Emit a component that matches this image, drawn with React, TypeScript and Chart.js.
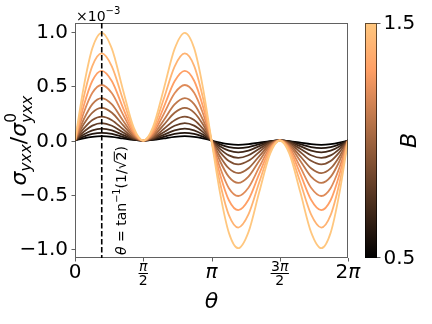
import React, { useEffect, useRef } from "react";
import { Chart, registerables } from "chart.js";

Chart.register(...registerables);

// θ sample positions (rad)
const THETA = [
  0, 0.2, 0.4, 0.615, 0.85, 1.1, 1.35, 1.571, 1.792, 2.042, 2.292, 2.527, 2.742, 2.942, 3.142,
  3.342, 3.542, 3.757, 3.992, 4.242, 4.492, 4.712, 4.933, 5.183, 5.433, 5.668, 5.883, 6.083, 6.283,
];

// B values of the curves (colour bar 0.5 .. 1.5)
const B_VALUES = [0.5, 0.6, 0.7, 0.8, 0.9, 1.0, 1.1, 1.2, 1.3, 1.4, 1.5];

// σ_yxx / σ^0_yxx (in units of 1e-3)
const SIG_B05 = [0, 0.02, 0.034, 0.04, 0.034, 0.019, 0.005, 0, 0.005, 0.019, 0.034, 0.04, 0.034, 0.02, 0, -0.02, -0.034, -0.04, -0.034, -0.019, -0.005, 0, -0.005, -0.019, -0.034, -0.04, -0.034, -0.02, 0];
const SIG_B06 = [0, 0.035, 0.06, 0.07, 0.06, 0.033, 0.009, 0, 0.009, 0.033, 0.06, 0.07, 0.06, 0.035, 0, -0.035, -0.06, -0.07, -0.06, -0.033, -0.009, 0, -0.009, -0.033, -0.06, -0.07, -0.06, -0.035, 0];
const SIG_B07 = [0, 0.055, 0.094, 0.11, 0.094, 0.052, 0.013, 0, 0.013, 0.052, 0.094, 0.11, 0.094, 0.055, 0, -0.055, -0.094, -0.11, -0.094, -0.052, -0.013, 0, -0.013, -0.052, -0.094, -0.11, -0.094, -0.055, 0];
const SIG_B08 = [0, 0.079, 0.137, 0.16, 0.136, 0.076, 0.02, 0, 0.02, 0.076, 0.136, 0.16, 0.137, 0.079, 0, -0.079, -0.137, -0.16, -0.136, -0.076, -0.02, 0, -0.02, -0.076, -0.136, -0.16, -0.137, -0.079, 0];
const SIG_B09 = [0, 0.109, 0.189, 0.22, 0.187, 0.105, 0.027, 0, 0.027, 0.105, 0.187, 0.22, 0.189, 0.109, 0, -0.109, -0.189, -0.22, -0.187, -0.105, -0.027, 0, -0.027, -0.105, -0.187, -0.22, -0.189, -0.109, 0];
const SIG_B10 = [0, 0.149, 0.257, 0.3, 0.255, 0.143, 0.037, 0, 0.037, 0.143, 0.255, 0.3, 0.257, 0.149, 0, -0.149, -0.257, -0.3, -0.255, -0.143, -0.037, 0, -0.037, -0.143, -0.255, -0.3, -0.257, -0.149, 0];
const SIG_B11 = [0, 0.193, 0.335, 0.39, 0.332, 0.186, 0.048, 0, 0.048, 0.186, 0.332, 0.39, 0.335, 0.193, 0, -0.193, -0.335, -0.39, -0.332, -0.186, -0.048, 0, -0.048, -0.186, -0.332, -0.39, -0.335, -0.193, 0];
const SIG_B12 = [0, 0.253, 0.438, 0.51, 0.434, 0.243, 0.062, 0, 0.062, 0.243, 0.434, 0.51, 0.438, 0.253, 0, -0.253, -0.438, -0.51, -0.434, -0.243, -0.062, 0, -0.062, -0.243, -0.434, -0.51, -0.438, -0.253, 0];
const SIG_B13 = [0, 0.317, 0.549, 0.64, 0.544, 0.305, 0.078, 0, 0.078, 0.305, 0.544, 0.64, 0.549, 0.317, 0, -0.317, -0.549, -0.64, -0.544, -0.305, -0.078, 0, -0.078, -0.305, -0.544, -0.64, -0.549, -0.317, 0];
const SIG_B14 = [0, 0.397, 0.686, 0.8, 0.68, 0.382, 0.098, 0, 0.098, 0.382, 0.68, 0.8, 0.686, 0.397, 0, -0.397, -0.686, -0.8, -0.68, -0.382, -0.098, 0, -0.098, -0.382, -0.68, -0.8, -0.686, -0.397, 0];
const SIG_B15 = [0, 0.491, 0.849, 0.99, 0.842, 0.472, 0.121, 0, 0.121, 0.472, 0.842, 0.99, 0.849, 0.491, 0, -0.491, -0.849, -0.99, -0.842, -0.472, -0.121, 0, -0.121, -0.472, -0.842, -0.99, -0.849, -0.491, 0];

const SERIES = [SIG_B05, SIG_B06, SIG_B07, SIG_B08, SIG_B09, SIG_B10, SIG_B11, SIG_B12, SIG_B13, SIG_B14, SIG_B15];

const Y_TICKS = [1.0, 0.5, 0.0, -0.5, -1.0];
const Y_TICK_LABELS = ["1.0", "0.5", "0.0", "\u22120.5", "\u22121.0"];
const X_TICKS = [0, Math.PI / 2, Math.PI, (3 * Math.PI) / 2, 2 * Math.PI];
const X_TICK_COEF = ["0", "", "", "3", "2"];
const X_TICK_PI = [false, true, true, true, true];
const X_TICK_DEN = ["", "2", "", "2", ""];
const THETA_MARK = Math.atan(1 / Math.SQRT2);
const CBAR_TICKS = [0.5, 1.5];
const CBAR_TICK_LABELS = ["0.5", "1.5"];

const FONT = '"DejaVu Sans", sans-serif';
const AXIS_COLOR = "rgba(0,0,0,0.62)";

function copper(t: number): string {
  const r = Math.min(1, 1.25 * t);
  const g = 0.7812 * t;
  const b = 0.4975 * t;
  return `rgb(${Math.round(r * 255)},${Math.round(g * 255)},${Math.round(b * 255)})`;
}

type Run = { text: string; size: number; italic?: boolean; dy?: number; stack?: Run[] };

function runWidth(ctx: CanvasRenderingContext2D, r: Run): number {
  if (r.stack) return Math.max(...r.stack.map((s) => runWidth(ctx, s)));
  ctx.font = `${r.italic ? "italic " : ""}${r.size}px ${FONT}`;
  return ctx.measureText(r.text).width;
}

function totalWidth(ctx: CanvasRenderingContext2D, runs: Run[]) {
  return runs.reduce((a, r) => a + runWidth(ctx, r), 0);
}

function drawRuns(ctx: CanvasRenderingContext2D, runs: Run[], x0: number, y0: number) {
  let x = x0;
  for (const r of runs) {
    if (r.stack) {
      for (const s of r.stack) {
        ctx.font = `${s.italic ? "italic " : ""}${s.size}px ${FONT}`;
        ctx.fillText(s.text, x, y0 + (s.dy || 0));
      }
    } else {
      ctx.font = `${r.italic ? "italic " : ""}${r.size}px ${FONT}`;
      ctx.fillText(r.text, x, y0 + (r.dy || 0));
    }
    x += runWidth(ctx, r);
  }
  return x;
}

function drawCentered(ctx: CanvasRenderingContext2D, runs: Run[], cx: number, y: number) {
  const w = totalWidth(ctx, runs);
  drawRuns(ctx, runs, cx - w / 2, y);
  return w;
}

const decorPlugin = {
  id: "decor",
  afterDatasetsDraw(chart: any) {
    const ctx: CanvasRenderingContext2D = chart.ctx;
    const xs = chart.scales.x;
    const ca = chart.chartArea;
    const px = xs.getPixelForValue(THETA_MARK);
    ctx.save();
    ctx.strokeStyle = "#000";
    ctx.lineWidth = 1.6;
    ctx.setLineDash([5.5, 2.5]);
    ctx.beginPath();
    ctx.moveTo(px, ca.top);
    ctx.lineTo(px, ca.bottom);
    ctx.stroke();
    ctx.restore();
  },
  afterDraw(chart: any) {
    const ctx: CanvasRenderingContext2D = chart.ctx;
    const xs = chart.scales.x;
    const ys = chart.scales.y;
    const ca = chart.chartArea;
    ctx.save();
    ctx.fillStyle = "#000";
    ctx.textBaseline = "alphabetic";

    // frame
    ctx.strokeStyle = AXIS_COLOR;
    ctx.lineWidth = 1;
    ctx.strokeRect(ca.left + 0.5, ca.top + 0.5, ca.right - ca.left - 1, ca.bottom - ca.top - 1);

    // tick marks
    ctx.beginPath();
    Y_TICKS.forEach((v) => {
      const y = Math.round(ys.getPixelForValue(v)) + 0.5;
      ctx.moveTo(ca.left - 3.5, y);
      ctx.lineTo(ca.left, y);
    });
    X_TICKS.forEach((v) => {
      const x = Math.round(xs.getPixelForValue(v)) + 0.5;
      ctx.moveTo(x, ca.bottom);
      ctx.lineTo(x, ca.bottom + 3.5);
    });
    ctx.stroke();

    // y tick labels
    ctx.font = `20px ${FONT}`;
    ctx.textAlign = "right";
    ctx.textBaseline = "middle";
    Y_TICKS.forEach((v, i) => {
      ctx.fillText(Y_TICK_LABELS[i], ca.left - 7, ys.getPixelForValue(v) + 1);
    });

    // x tick labels
    ctx.textAlign = "left";
    ctx.textBaseline = "alphabetic";
    X_TICKS.forEach((v, i) => {
      const x = xs.getPixelForValue(v);
      if (X_TICK_DEN[i]) {
        const num: Run[] = [];
        if (X_TICK_COEF[i]) num.push({ text: X_TICK_COEF[i], size: 14 });
        if (X_TICK_PI[i]) num.push({ text: "\u03c0", size: 14, italic: true });
        const w = Math.max(drawCentered(ctx, num, x, ca.bottom + 13), 8) + 1;
        ctx.fillRect(x - w / 2, ca.bottom + 15, w, 1);
        drawCentered(ctx, [{ text: X_TICK_DEN[i], size: 14 }], x, ca.bottom + 27);
      } else {
        const runs: Run[] = [];
        if (X_TICK_COEF[i]) runs.push({ text: X_TICK_COEF[i], size: 20 });
        if (X_TICK_PI[i]) runs.push({ text: "\u03c0", size: 20, italic: true });
        drawCentered(ctx, runs, x, ca.bottom + 19.5);
      }
    });

    // x label
    drawCentered(ctx, [{ text: "\u03b8", size: 22, italic: true }], (ca.left + ca.right) / 2, 308);

    // offset text ×10^-3
    drawRuns(
      ctx,
      [
        { text: "\u00d710", size: 14 },
        { text: "\u22123", size: 10, dy: -7 },
      ],
      ca.left + 1,
      21
    );

    // y label (rotated)
    ctx.save();
    ctx.translate(26, (ca.top + ca.bottom) / 2);
    ctx.rotate(-Math.PI / 2);
    const yl: Run[] = [
      { text: "\u03c3", size: 22, italic: true },
      { text: "yxx", size: 15.4, italic: true, dy: 5 },
      { text: "/", size: 22 },
      { text: "\u03c3", size: 22, italic: true },
      {
        text: "",
        size: 15.4,
        stack: [
          { text: "0", size: 15.4, dy: -10 },
          { text: "yxx", size: 15.4, italic: true, dy: 6 },
        ],
      },
    ];
    drawCentered(ctx, yl, 0, 0);
    ctx.restore();

    // annotation θ = tan^-1(1/√2)
    ctx.save();
    ctx.translate(126, 255);
    ctx.rotate(-Math.PI / 2);
    let x = drawRuns(
      ctx,
      [
        { text: "\u03b8", size: 14, italic: true },
        { text: " = tan", size: 14 },
        { text: "\u22121", size: 9.8, dy: -6 },
        { text: "(1/\u221a", size: 14 },
      ],
      0,
      0
    );
    ctx.font = `14px ${FONT}`;
    const w2 = ctx.measureText("2").width;
    ctx.fillText("2", x, 0);
    ctx.fillRect(x - 0.5, -12.2, w2 + 0.5, 1);
    x += w2;
    ctx.fillText(")", x, 0);
    ctx.restore();

    // colour bar
    const cbL = 365,
      cbR = 377,
      cbT = ca.top,
      cbB = ca.bottom;
    const grad = ctx.createLinearGradient(0, cbB, 0, cbT);
    for (let k = 0; k <= 10; k++) grad.addColorStop(k / 10, copper(k / 10));
    ctx.fillStyle = grad;
    ctx.fillRect(cbL, cbT, cbR - cbL, cbB - cbT);
    ctx.strokeStyle = AXIS_COLOR;
    ctx.strokeRect(cbL + 0.5, cbT + 0.5, cbR - cbL - 1, cbB - cbT - 1);
    ctx.fillStyle = "#000";
    ctx.font = `20px ${FONT}`;
    ctx.textAlign = "left";
    ctx.textBaseline = "middle";
    ctx.beginPath();
    CBAR_TICKS.forEach((v, i) => {
      const t = (v - B_VALUES[0]) / (B_VALUES[B_VALUES.length - 1] - B_VALUES[0]);
      const y = cbB - t * (cbB - cbT);
      const yy = Math.min(Math.max(Math.round(y) + 0.5, cbT + 0.5), cbB - 0.5);
      ctx.moveTo(cbR, yy);
      ctx.lineTo(cbR + 3.5, yy);
      ctx.fillText(CBAR_TICK_LABELS[i], cbR + 6.5, y + 1);
    });
    ctx.stroke();

    // colour bar label
    ctx.save();
    ctx.translate(416, (ca.top + ca.bottom) / 2);
    ctx.rotate(-Math.PI / 2);
    ctx.textAlign = "center";
    ctx.textBaseline = "alphabetic";
    ctx.font = `italic 22px ${FONT}`;
    ctx.fillText("B", 0, 0);
    ctx.restore();

    ctx.restore();
  },
};

export default function App() {
  const ref = useRef<HTMLCanvasElement | null>(null);
  useEffect(() => {
    if (!ref.current) return;
    const bMin = B_VALUES[0];
    const bMax = B_VALUES[B_VALUES.length - 1];
    const datasets = SERIES.map((vals, i) => ({
      label: `B=${B_VALUES[i]}`,
      data: THETA.map((t, j) => ({ x: t, y: vals[j] })),
      borderColor: copper((B_VALUES[i] - bMin) / (bMax - bMin)),
      borderWidth: 1.8,
      pointRadius: 0,
      fill: false,
      cubicInterpolationMode: "monotone" as const,
    })).reverse();
    const chart = new Chart(ref.current, {
      type: "line",
      data: { datasets },
      options: {
        animation: false,
        responsive: false,
        devicePixelRatio: 1,
        layout: { padding: { left: 75, right: 84, top: 23, bottom: 66 } },
        scales: {
          x: { type: "linear", min: 0, max: 2 * Math.PI, display: false },
          y: { type: "linear", min: -1.08, max: 1.08, display: false },
        },
        plugins: { legend: { display: false }, tooltip: { enabled: false } },
        events: [],
      },
      plugins: [decorPlugin],
    });
    return () => chart.destroy();
  }, []);
  return (
    <div style={{ position: "fixed", left: 0, top: 0, width: 432, height: 324, background: "#fff" }}>
      <canvas ref={ref} width={432} height={324} />
    </div>
  );
}
